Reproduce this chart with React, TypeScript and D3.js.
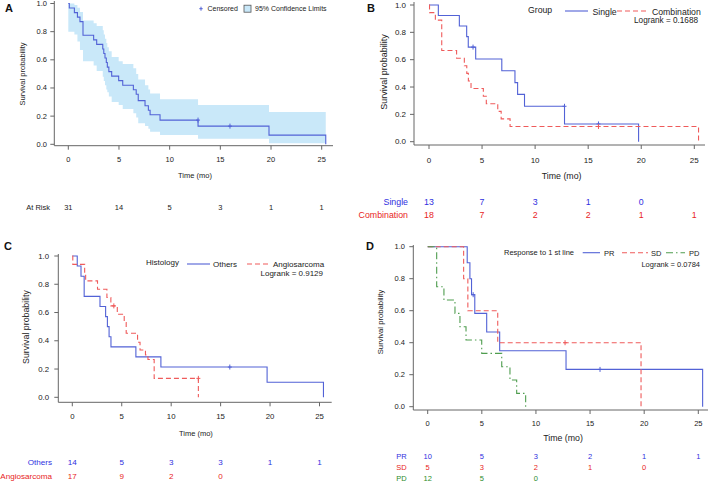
import React from 'react';
import * as d3 from 'd3';

const FONT = "'Liberation Sans', Arial, sans-serif";
const BLUE = '#5262d6';
const RED = '#ef5b5b';
const GREEN = '#4f9d4f';
const BLUE_TXT = '#2f2fe0';
const RED_TXT = '#e82424';
const GREEN_TXT = '#2a8c2a';
const BAND = '#c9e8f9';
const AXIS = '#666';
const TXT = '#222';

const timeTicks = [0, 5, 10, 15, 20, 25];
const survTicks = [0, 0.2, 0.4, 0.6, 0.8, 1.0];

// ---------- Panel A ----------
const aTime = [0, 0.1, 0.6, 0.9, 1.15, 1.45, 2.5, 2.8, 3.4, 3.5, 3.62, 3.75, 3.85, 4.0, 4.28, 4.97, 5.37, 6.42, 6.7, 6.9, 7.57, 7.9, 8.07, 9.05, 12.8, 19.8, 25.4];
const aSurv = [1, 0.968, 0.935, 0.903, 0.871, 0.774, 0.742, 0.71, 0.677, 0.645, 0.613, 0.581, 0.548, 0.516, 0.484, 0.452, 0.419, 0.387, 0.355, 0.31, 0.274, 0.242, 0.21, 0.172, 0.129, 0.065, 0];
const aCensT = [12.8, 15.95];
const aCensS = [0.172, 0.129];
const aBandTime = [0, 0.6, 0.9, 1.15, 1.45, 2.5, 2.8, 3.4, 3.5, 3.62, 3.75, 3.85, 4.0, 4.28, 4.97, 5.37, 6.42, 6.7, 6.9, 7.57, 7.9, 8.07, 9.05, 12.8, 19.8, 25.4];
const aBandUpper = [1.0, 0.99, 0.97, 0.94, 0.88, 0.86, 0.84, 0.81, 0.78, 0.75, 0.72, 0.69, 0.66, 0.62, 0.59, 0.57, 0.54, 0.5, 0.46, 0.42, 0.39, 0.36, 0.32, 0.28, 0.23, 0.23];
const aBandLower = [0.8, 0.78, 0.73, 0.67, 0.59, 0.56, 0.52, 0.48, 0.45, 0.42, 0.39, 0.37, 0.34, 0.3, 0.28, 0.25, 0.22, 0.19, 0.15, 0.13, 0.11, 0.09, 0.066, 0.04, 0.007, 0.007];
const aRisk = [31, 14, 5, 3, 1, 1];

// ---------- Panel B ----------
const bSingleTime = [0, 0.88, 2.86, 3.55, 3.7, 4.4, 6.86, 8.1, 8.35, 9.0, 12.77, 19.75];
const bSingleSurv = [1, 0.923, 0.846, 0.769, 0.692, 0.605, 0.519, 0.432, 0.346, 0.259, 0.13, 0];
const bSingleCensT = [4.15, 12.77, 15.97];
const bSingleCensS = [0.692, 0.259, 0.13];
const bCombTime = [0, 0.05, 0.6, 1.2, 2.6, 3.33, 3.56, 3.71, 3.96, 5.12, 5.4, 6.48, 6.8, 7.64, 25.4];
const bCombSurv = [1, 0.944, 0.889, 0.667, 0.611, 0.556, 0.5, 0.444, 0.389, 0.333, 0.278, 0.222, 0.167, 0.111, 0];
const bCombCensT = [15.97];
const bCombCensS = [0.111];
const bRiskSingle = [13, 7, 3, 1, 0];
const bRiskComb = [18, 7, 2, 2, 1, 1];

// ---------- Panel C ----------
const cOthersTime = [0, 0.5, 0.88, 1.2, 2.8, 3.37, 3.55, 3.72, 3.91, 6.43, 8.96, 19.7, 25.4];
const cOthersSurv = [1, 0.929, 0.857, 0.714, 0.643, 0.571, 0.5, 0.429, 0.357, 0.286, 0.214, 0.107, 0];
const cOthersCensT = [15.93];
const cOthersCensS = [0.214];
const cAngioTime = [0, 0.05, 1.25, 1.35, 2.55, 3.5, 3.9, 4.55, 5.25, 5.45, 6.6, 6.85, 7.4, 7.65, 8.28, 12.75];
const cAngioSurv = [1, 0.941, 0.882, 0.824, 0.765, 0.706, 0.647, 0.588, 0.529, 0.453, 0.39, 0.335, 0.3, 0.268, 0.134, 0];
const cAngioCensT = [4.2, 12.75];
const cAngioCensS = [0.647, 0.134];
const cRiskOthers = [14, 5, 3, 3, 1, 1];
const cRiskAngio = [17, 9, 2, 0];

// ---------- Panel D ----------
const dPRTime = [0, 3.65, 3.9, 4.05, 4.35, 5.45, 6.65, 12.78, 25.4];
const dPRSurv = [1, 0.9, 0.8, 0.7, 0.583, 0.467, 0.35, 0.233, 0];
const dPRCensT = [4.2, 15.92];
const dPRCensS = [0.7, 0.233];
const dSDTime = [0, 3.32, 3.71, 6.47, 19.71];
const dSDSurv = [1, 0.8, 0.6, 0.4, 0];
const dSDCensT = [12.69];
const dSDCensS = [0.4];
const dPDTime = [0, 0.83, 1.5, 2.52, 2.98, 3.54, 4.99, 6.84, 7.6, 8.22, 9.05];
const dPDSurv = [1, 0.75, 0.667, 0.583, 0.5, 0.417, 0.333, 0.25, 0.167, 0.083, 0];
const dRiskPR = [10, 5, 3, 2, 1, 1];
const dRiskSD = [5, 3, 2, 1, 0];
const dRiskPD = [12, 5, 0];

type Series = { time: number[]; surv: number[]; censT: number[]; censS: number[]; color: string; dash?: string };
type RiskRow = { label: string; values: number[]; color: string; y: number };
type Band = { time: number[]; upper: number[]; lower: number[] };

interface PanelProps {
  x0: number; x25: number; y1: number; y0: number;
  axisLeft: number; axisBottom: number; axisRight: number; axisTop: number;
  tickFont: number; yTickRight: number; xTickY: number;
  titleY: number; titleFont: number;
  yLabelX: number; yLabelY: number; yLabelFont: number;
  riskLabelRight: number; riskFont: number;
  series: Series[]; band?: Band; risk: RiskRow[];
}

function Panel(p: PanelProps) {
  const xs = d3.scaleLinear().domain([0, 25]).range([p.x0, p.x25]);
  const ys = d3.scaleLinear().domain([0, 1]).range([p.y0, p.y1]);
  const line = d3.line<[number, number]>().x(d => xs(d[0])).y(d => ys(d[1])).curve(d3.curveStepAfter);
  let bandPath: string | null = null;
  if (p.band) {
    const b = p.band;
    const pts = b.time.map((t, i) => ({ t, u: b.upper[i], l: b.lower[i] }));
    bandPath = d3.area<{ t: number; u: number; l: number }>()
      .x(d => xs(d.t)).y0(d => ys(d.l)).y1(d => ys(d.u)).curve(d3.curveStepAfter)(pts);
  }
  return (
    <g>
      {bandPath && <path d={bandPath} fill={BAND} stroke="none" />}
      {p.series.map((s, i) => (
        <g key={i}>
          <path d={line(s.time.map((t, j) => [t, s.surv[j]] as [number, number])) || ''} fill="none" stroke={s.color} strokeWidth={1.1} strokeDasharray={s.dash} />
          {s.censT.map((t, j) => (
            <g key={j} stroke={s.color} strokeWidth={1}>
              <line x1={xs(t)} x2={xs(t)} y1={ys(s.censS[j]) - 2.5} y2={ys(s.censS[j]) + 2.5} />
              <line x1={xs(t) - 2} x2={xs(t) + 2} y1={ys(s.censS[j])} y2={ys(s.censS[j])} />
            </g>
          ))}
        </g>
      ))}
      <line x1={p.axisLeft} x2={p.axisLeft} y1={p.axisTop} y2={p.axisBottom} stroke={AXIS} />
      <line x1={p.axisLeft} x2={p.axisRight} y1={p.axisBottom} y2={p.axisBottom} stroke={AXIS} />
      {survTicks.map(v => (
        <g key={v}>
          <line x1={p.axisLeft - 4} x2={p.axisLeft} y1={ys(v)} y2={ys(v)} stroke={AXIS} />
          <text x={p.yTickRight} y={ys(v)} textAnchor="end" dominantBaseline="central" fontSize={p.tickFont} fill={TXT}>{v.toFixed(1)}</text>
        </g>
      ))}
      {timeTicks.map(v => (
        <g key={v}>
          <line x1={xs(v)} x2={xs(v)} y1={p.axisBottom} y2={p.axisBottom + 4} stroke={AXIS} />
          <text x={xs(v)} y={p.xTickY} textAnchor="middle" dominantBaseline="central" fontSize={p.tickFont} fill={TXT}>{v}</text>
        </g>
      ))}
      <text x={(p.x0 + p.x25) / 2} y={p.titleY} textAnchor="middle" dominantBaseline="central" fontSize={p.titleFont} fill={TXT}>Time (mo)</text>
      <text transform={`translate(${p.yLabelX},${p.yLabelY}) rotate(-90)`} textAnchor="middle" dominantBaseline="central" fontSize={p.yLabelFont} fill={TXT}>Survival probability</text>
      {p.risk.map((r, i) => (
        <g key={i} fill={r.color}>
          <text x={p.riskLabelRight} y={r.y} textAnchor="end" dominantBaseline="central" fontSize={p.riskFont}>{r.label}</text>
          {r.values.map((v, j) => (
            <text key={j} x={xs(timeTicks[j])} y={r.y} textAnchor="middle" dominantBaseline="central" fontSize={p.riskFont}>{v}</text>
          ))}
        </g>
      ))}
    </g>
  );
}

function Letter({ x, y, t }: { x: number; y: number; t: string }) {
  return <text x={x} y={y} dominantBaseline="central" fontSize={11} fontWeight="bold" fill="#111">{t}</text>;
}

function LegLine({ x1, x2, y, color, dash }: { x1: number; x2: number; y: number; color: string; dash?: string }) {
  return <line x1={x1} x2={x2} y1={y} y2={y} stroke={color} strokeWidth={1.1} strokeDasharray={dash} />;
}

function T({ x, y, s, anchor, children, color }: { x: number; y: number; s: number; anchor?: string; children: React.ReactNode; color?: string }) {
  return <text x={x} y={y} fontSize={s} textAnchor={anchor || 'start'} dominantBaseline="central" fill={color || TXT}>{children}</text>;
}

const DASH = '5,3';
const DASHDOT = '7,3,1.5,3';

export default function App() {
  return (
    <svg width={709} height={482} style={{ position: 'fixed', left: 0, top: 0, background: '#fff', fontFamily: FONT }}>
      <rect width={709} height={482} fill="#fff" />
      {/* Panel A */}
      <Letter x={5} y={8} t="A" />
      <Panel x0={68.3} x25={321.7} y1={3.5} y0={144.3} axisLeft={54.3} axisBottom={145.7} axisRight={333} axisTop={1}
        tickFont={7.5} yTickRight={47} xTickY={159.5} titleY={175} titleFont={7.5}
        yLabelX={22.5} yLabelY={74} yLabelFont={7.5} riskLabelRight={50} riskFont={7.5}
        band={{ time: aBandTime, upper: aBandUpper, lower: aBandLower }}
        series={[{ time: aTime, surv: aSurv, censT: aCensT, censS: aCensS, color: BLUE }]}
        risk={[{ label: 'At Risk', values: aRisk, color: TXT, y: 207.3 }]} />
      <g stroke={BLUE} strokeWidth={1}>
        <line x1={201} x2={201} y1={6.7} y2={10.7} />
        <line x1={199.3} x2={202.7} y1={8.7} y2={8.7} />
      </g>
      <T x={207.5} y={8.7} s={7}>Censored</T>
      <rect x={244} y={5.2} width={7} height={7} fill={BAND} stroke="#555" strokeWidth={0.8} />
      <T x={255} y={8.7} s={7}>95% Confidence Limits</T>

      {/* Panel B */}
      <Letter x={367} y={8} t="B" />
      <Panel x0={429} x25={694.3} y1={5} y0={141.7} axisLeft={414} axisBottom={145} axisRight={705} axisTop={2}
        tickFont={8} yTickRight={406} xTickY={160} titleY={175.7} titleFont={8.8}
        yLabelX={384} yLabelY={72} yLabelFont={9} riskLabelRight={408} riskFont={8.8}
        series={[
          { time: bSingleTime, surv: bSingleSurv, censT: bSingleCensT, censS: bSingleCensS, color: BLUE },
          { time: bCombTime, surv: bCombSurv, censT: bCombCensT, censS: bCombCensS, color: RED, dash: DASH },
        ]}
        risk={[
          { label: 'Single', values: bRiskSingle, color: BLUE_TXT, y: 202.3 },
          { label: 'Combination', values: bRiskComb, color: RED_TXT, y: 215.3 },
        ]} />
      <T x={528} y={9.5} s={8.7}>Group</T>
      <LegLine x1={565} x2={588} y={11} color={BLUE} />
      <T x={592.5} y={11.5} s={8.7}>Single</T>
      <LegLine x1={617} x2={648} y={11} color={RED} dash={DASH} />
      <T x={652} y={11.5} s={8.7}>Combination</T>
      <T x={698} y={20.5} s={8.2} anchor="end">Logrank = 0.1688</T>

      {/* Panel C */}
      <Letter x={4} y={246} t="C" />
      <Panel x0={72.3} x25={319.5} y1={256} y0={397.3} axisLeft={58.3} axisBottom={402.3} axisRight={331.7} axisTop={254}
        tickFont={7.8} yTickRight={49} xTickY={416.7} titleY={433} titleFont={7.5}
        yLabelX={26} yLabelY={327} yLabelFont={8.8} riskLabelRight={52} riskFont={8.1}
        series={[
          { time: cOthersTime, surv: cOthersSurv, censT: cOthersCensT, censS: cOthersCensS, color: BLUE },
          { time: cAngioTime, surv: cAngioSurv, censT: cAngioCensT, censS: cAngioCensS, color: RED, dash: DASH },
        ]}
        risk={[
          { label: 'Others', values: cRiskOthers, color: BLUE_TXT, y: 462 },
          { label: 'Angiosarcoma', values: cRiskAngio, color: RED_TXT, y: 476.7 },
        ]} />
      <T x={146} y={262.5} s={8}>Histology</T>
      <LegLine x1={187} x2={210} y={264} color={BLUE} />
      <T x={213} y={264} s={8}>Others</T>
      <LegLine x1={247} x2={268} y={264} color={RED} dash={DASH} />
      <T x={273} y={264} s={8}>Angiosarcoma</T>
      <T x={323} y={273.8} s={8} anchor="end">Logrank = 0.9129</T>

      {/* Panel D */}
      <Letter x={366} y={246} t="D" />
      <Panel x0={427.7} x25={698.3} y1={246.7} y0={406.7} axisLeft={413.3} axisBottom={410} axisRight={708} axisTop={245}
        tickFont={7.5} yTickRight={405} xTickY={423.3} titleY={438.3} titleFont={8.8}
        yLabelX={380} yLabelY={322} yLabelFont={7.7} riskLabelRight={406.7} riskFont={7.5}
        series={[
          { time: dPRTime, surv: dPRSurv, censT: dPRCensT, censS: dPRCensS, color: BLUE },
          { time: dSDTime, surv: dSDSurv, censT: dSDCensT, censS: dSDCensS, color: RED, dash: DASH },
          { time: dPDTime, surv: dPDSurv, censT: [], censS: [], color: GREEN, dash: DASHDOT },
        ]}
        risk={[
          { label: 'PR', values: dRiskPR, color: BLUE_TXT, y: 456.7 },
          { label: 'SD', values: dRiskSD, color: RED_TXT, y: 467.7 },
          { label: 'PD', values: dRiskPD, color: GREEN_TXT, y: 478.3 },
        ]} />
      <T x={504} y={252.7} s={7.5}>Response to 1 st line</T>
      <LegLine x1={582.7} x2={600} y={252.7} color={BLUE} />
      <T x={604} y={253} s={7.5}>PR</T>
      <LegLine x1={622} x2={648} y={252.7} color={RED} dash={DASH} />
      <T x={651} y={253} s={7.5}>SD</T>
      <LegLine x1={666} x2={685} y={252.7} color={GREEN} dash={DASHDOT} />
      <T x={689} y={253} s={7.5}>PD</T>
      <T x={700} y={264} s={7.5} anchor="end">Logrank = 0.0784</T>
    </svg>
  );
}
